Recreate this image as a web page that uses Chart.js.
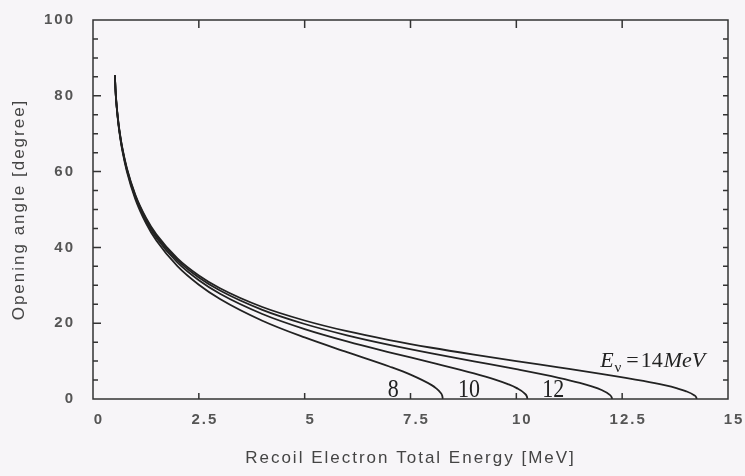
<!DOCTYPE html>
<html>
<head>
<meta charset="utf-8">
<script src="https://cdn.jsdelivr.net/npm/chart.js@4.4.1/dist/chart.umd.min.js"></script>
<style>
  html, body { margin: 0; padding: 0; background: #f7f5f8; }
  canvas { display: block; }
</style>
</head>
<body>
<canvas id="chart" width="745" height="476"></canvas>
<script>
// recoil electron total energy [MeV], shared start of every curve
const eStart = [0.517, 0.52, 0.53, 0.55, 0.6, 0.65, 0.7, 0.8, 1.0, 1.25, 1.5, 2.0, 2.5, 3, 4, 5, 6, 7];

// E_nu = 8 MeV
const energy8 = eStart.concat([7.5, 8, 8.1, 8.2, 8.25, 8.263]);
const angle8 = [85.34, 84.30, 81.74, 78.23, 72.47, 68.40, 65.15, 60.03, 52.75, 46.43, 41.75, 34.99,
  30.15, 26.39, 20.66, 16.24, 12.36, 8.57, 6.43, 3.66, 2.88, 1.78, 0.85, 0];

// E_nu = 10 MeV
const energy10 = eStart.concat([8, 9, 9.5, 9.8, 10, 10.2, 10.25, 10.263]);
const angle10 = [85.39, 84.36, 81.84, 78.37, 72.69, 68.67, 65.47, 60.43, 53.28, 47.08, 42.51, 35.96,
  31.32, 27.75, 22.42, 18.44, 15.19, 12.32, 9.60, 6.77, 5.12, 3.93, 2.93, 1.43, 0.63, 0];

// E_nu = 12 MeV
const energy12 = eStart.concat([8, 9, 10, 11, 11.5, 11.8, 12, 12.2, 12.25, 12.264]);
const angle12 = [85.43, 84.41, 81.90, 78.47, 72.84, 68.85, 65.68, 60.69, 53.62, 47.52, 43.02, 36.60,
  32.07, 28.62, 23.52, 19.79, 16.81, 14.29, 12.04, 9.94, 7.86, 5.60, 4.26, 3.27, 2.43, 1.17, 0.51, 0];

// E_nu = 14 MeV
const energy14 = eStart.concat([8, 9, 10, 11, 12, 13, 13.5, 13.8, 14, 14.2, 14.25, 14.262]);
const angle14 = [85.46, 84.44, 81.95, 78.54, 72.94, 68.98, 65.83, 60.88, 53.87, 47.82, 43.37, 37.05,
  32.60, 29.22, 24.27, 20.71, 17.88, 15.56, 13.52, 11.70, 9.99, 8.34, 6.65, 4.77, 3.64, 2.80, 2.10, 0.99, 0.44, 0];

const curveLabels = ['8', '10', '12'];

const curves = [[energy8, angle8], [energy10, angle10], [energy12, angle12], [energy14, angle14]];

const SPACING = '2px';

// frame, inward ticks and the curve labels
const framePlugin = {
  id: 'frame',
  beforeUpdate(chart) { chart.ctx.letterSpacing = SPACING; },
  beforeDraw(chart) {
    const c = chart.ctx;
    c.save();
    c.fillStyle = '#f7f5f8';
    c.fillRect(0, 0, chart.width, chart.height);
    c.restore();
    c.letterSpacing = SPACING;
  },
  afterDraw(chart) {
    const c = chart.ctx;
    const a = chart.chartArea;
    const x = chart.scales.x, y = chart.scales.y;
    c.save();
    c.letterSpacing = '0px';
    c.strokeStyle = '#333';
    c.lineWidth = 1.5;
    c.strokeRect(a.left, a.top, a.right - a.left, a.bottom - a.top);
    c.beginPath();
    for (let v = 2.5; v < 15; v += 2.5) {
      const px = x.getPixelForValue(v);
      c.moveTo(px, a.bottom); c.lineTo(px, a.bottom - 6);
      c.moveTo(px, a.top); c.lineTo(px, a.top + 8);
    }
    for (let v = 5; v < 100; v += 5) {
      const py = y.getPixelForValue(v);
      c.moveTo(a.left, py); c.lineTo(a.left + (v % 20 ? 5 : 8), py);
      c.moveTo(a.right, py); c.lineTo(a.right - 5, py);
    }
    c.stroke();

    // numbers at the curve ends
    c.fillStyle = '#222';
    c.font = '25px "Liberation Serif"';
    c.textAlign = 'center';
    c.textBaseline = 'alphabetic';
    const at = [7.09, 8.88, 10.87];
    curveLabels.forEach((t, i) => {
      c.save();
      c.translate(x.getPixelForValue(at[i]), y.getPixelForValue(0.5));
      c.scale(0.88, 1);
      c.fillText(t, 0, 0);
      c.restore();
    });

    // E_nu = 14MeV
    let px = x.getPixelForValue(11.98);
    const py = y.getPixelForValue(8.44);
    c.textAlign = 'left';
    c.font = 'italic 22px "Liberation Serif"';
    c.fillText('E', px, py);
    px += c.measureText('E').width + 1;
    c.font = '15px "Liberation Serif"';
    c.fillText('\u03bd', px, py + 5);
    px += c.measureText('\u03bd').width + 5;
    c.font = '22px "Liberation Serif"';
    c.fillText('=', px, py);
    px += c.measureText('=').width + 2;
    c.fillText('14', px, py);
    px += c.measureText('14').width + 1;
    c.font = 'italic 22px "Liberation Serif"';
    c.fillText('MeV', px, py);
    c.restore();
  }
};

new Chart(document.getElementById('chart'), {
  type: 'line',
  data: {
    datasets: curves.map(([e, a]) => ({
      data: e.map((v, i) => ({ x: v, y: a[i] })),
      borderColor: '#222',
      borderWidth: 1.8,
      pointRadius: 0,
      fill: false,
      cubicInterpolationMode: 'monotone'
    }))
  },
  options: {
    responsive: false,
    animation: false,
    layout: { padding: { top: 20, right: 17, left: 0, bottom: 0 } },
    plugins: { legend: { display: false }, tooltip: { enabled: false } },
    scales: {
      x: {
        type: 'linear',
        min: 0, max: 15,
        grid: { display: false, drawTicks: false },
        border: { display: false },
        ticks: { stepSize: 2.5, padding: 12, labelOffset: 6, color: '#555', maxRotation: 0,
          font: { family: 'Liberation Sans', size: 15, weight: 'bold' } },
        title: { display: true, text: 'Recoil Electron Total Energy [MeV]', color: '#444',
          font: { family: 'Liberation Sans', size: 17 }, padding: { top: 0, bottom: 7 } },
        afterFit(scale) { scale.height = 77; scale.paddingLeft = 0; scale.paddingRight = 0; }
      },
      y: {
        min: 0, max: 100,
        grid: { display: false, drawTicks: false },
        border: { display: false },
        ticks: { stepSize: 20, padding: 18, color: '#555',
          font: { family: 'Liberation Sans', size: 15, weight: 'bold' } },
        title: { display: true, text: 'Opening angle [degree]', color: '#444',
          font: { family: 'Liberation Sans', size: 17 }, padding: { top: 9, bottom: 0 } },
        afterFit(scale) { scale.width = 93; scale.paddingTop = 0; scale.paddingBottom = 0; }
      }
    }
  },
  plugins: [framePlugin]
});
</script>
</body>
</html>
